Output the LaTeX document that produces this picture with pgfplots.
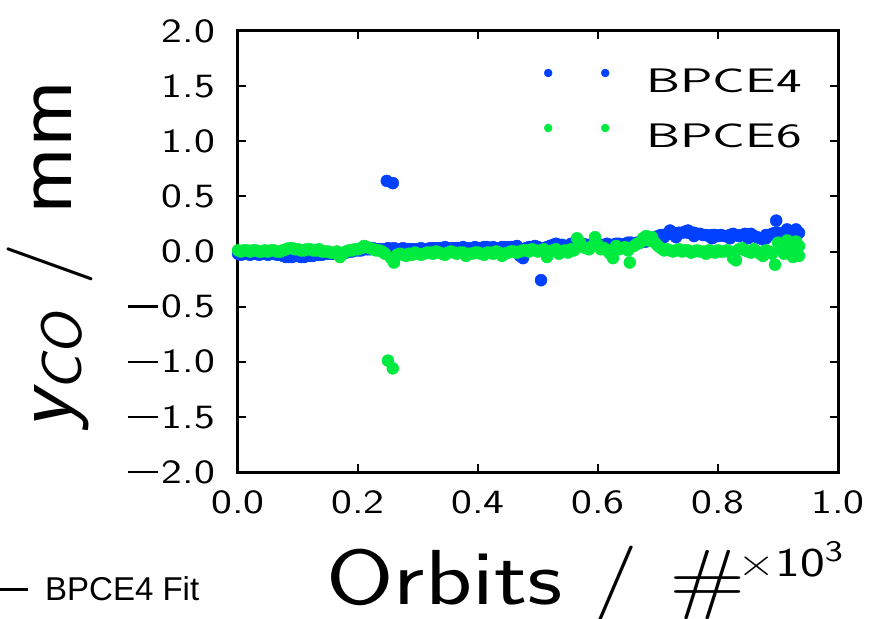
\documentclass[border=0pt]{standalone}
\usepackage{fontspec}
\usepackage{graphicx}
\usepackage{pgfplots}
\pgfplotsset{compat=1.18}
\newfontfamily\arialfont{Liberation Sans}
\definecolor{bpcefour}{RGB}{0,64,255}
\definecolor{bpcesix}{RGB}{0,235,64}
\newcommand\hs[2]{\scalebox{#1}[1]{#2}}
\newcommand\tk[1]{\hs{1.3}{#1}}
\newcommand\mn{\raisebox{10pt}{\rule{23pt}{2.4pt}}\hspace{3pt}}
\begin{document}
\begin{tikzpicture}
\useasboundingbox (-238pt,-146pt) rectangle (634pt,472pt);
\begin{axis}[
  at={(0pt,0pt)}, anchor=south west,
  scale only axis, width=600pt, height=441pt,
  xmin=0, xmax=1, ymin=-2, ymax=2,
  xtick={0,0.2,0.4,0.6,0.8,1},
  xticklabels={\tk{0.0},\tk{0.2},\tk{0.4},\tk{0.6},\tk{0.8},\tk{1.0}},
  ytick={-2,-1.5,-1,-0.5,0,0.5,1,1.5,2},
  yticklabels={\tk{\mn2.0},\tk{\mn1.5},\tk{\mn1.0},\tk{\mn0.5},\tk{0.0},\tk{0.5},\tk{1.0},\tk{1.5},\tk{2.0}},
  xticklabel style={font=\sffamily\fontsize{34}{34}\selectfont, inner sep=0pt, anchor=north, yshift=-18pt},
  yticklabel style={font=\sffamily\fontsize{34}{34}\selectfont, inner sep=0pt, anchor=east, xshift=-23pt},
  tick align=inside,
  major tick length=8pt,
  every tick/.style={black, line width=2pt},
  axis line style={line width=3pt},
  every axis x label/.style={at={(axis description cs:0.4967,-0.2994)}, anchor=base, font=\sffamily\fontsize{78}{78}\selectfont},
  every axis y label/.style={at={(axis description cs:-0.2767,0.492)}, rotate=90, anchor=base, font=\sffamily\fontsize{86}{86}\selectfont},
  xlabel={\hs{1.25}{Orbits / \#}},
  ylabel={\hs{1.05}{{\itshape y}\raisebox{-10pt}{\fontsize{57}{57}\selectfont\itshape CO} / mm}},
  legend style={at={(axis description cs:0.51,0.9184)}, anchor=north west, draw=none, fill=none,
    inner sep=0pt, outer sep=0pt, row sep=21pt,
    nodes={inner sep=0pt, text height=26pt, text depth=8pt, font=\sffamily\fontsize{34}{34}\selectfont}},
  legend cell align=left,
]
\addplot[only marks, mark=*, mark size=6pt, color=bpcefour,
  legend image code/.code={\path[draw=none,fill=none] (0pt,0pt) rectangle (102pt,15pt); \fill (4pt,11pt) circle (4pt); \fill (61pt,11pt) circle (4pt);}]
coordinates {
(0.00,-0.02) (0.01,-0.02) (0.02,-0.03) (0.03,-0.02) (0.04,-0.02) (0.05,-0.03) (0.06,-0.02) (0.07,-0.03)
(0.08,-0.05) (0.09,-0.05) (0.10,-0.04) (0.11,-0.05) (0.12,-0.04) (0.13,-0.03) (0.14,-0.03) (0.15,-0.02)
(0.16,-0.02) (0.17,-0.02) (0.18,-0.01) (0.19,0.00) (0.20,0.01) (0.21,0.02) (0.22,0.02) (0.23,0.02)
(0.24,0.02) (0.248,0.64) (0.25,0.03) (0.258,0.62) (0.26,0.03) (0.27,0.02) (0.28,0.02) (0.29,0.02)
(0.30,0.02) (0.31,0.02) (0.32,0.03) (0.33,0.03) (0.34,0.03) (0.35,0.03) (0.36,0.03) (0.37,0.03)
(0.38,0.03) (0.39,0.03) (0.40,0.03) (0.41,0.04) (0.42,0.03) (0.43,0.03) (0.44,0.04) (0.45,0.04)
(0.46,0.04) (0.47,-0.04) (0.475,-0.06) (0.48,0.03) (0.49,0.04) (0.50,0.04) (0.505,-0.26) (0.51,0.03)
(0.52,0.05) (0.53,0.07) (0.54,0.06) (0.55,0.05) (0.56,0.06) (0.57,0.06) (0.58,0.06) (0.59,0.06)
(0.60,0.06) (0.61,0.06) (0.62,0.06) (0.63,0.07) (0.64,0.06) (0.65,0.08) (0.66,0.07) (0.67,0.08)
(0.68,0.09) (0.69,0.12) (0.70,0.14) (0.71,0.15) (0.72,0.16) (0.73,0.16) (0.74,0.17) (0.75,0.17)
(0.76,0.17) (0.77,0.16) (0.78,0.15) (0.79,0.15) (0.80,0.14) (0.81,0.14) (0.82,0.15) (0.83,0.15)
(0.84,0.15) (0.85,0.15) (0.86,0.14) (0.87,0.12) (0.88,0.15) (0.89,0.16) (0.897,0.28) (0.90,0.17)
(0.91,0.17) (0.92,0.17) (0.93,0.18) (0.935,0.17)
(0.005,-0.03) (0.015,-0.02) (0.025,-0.02) (0.035,-0.03) (0.045,-0.02) (0.055,-0.02) (0.065,-0.03) (0.075,-0.04)
(0.085,-0.05) (0.095,-0.04) (0.105,-0.05) (0.115,-0.04) (0.125,-0.04) (0.135,-0.03) (0.145,-0.02) (0.155,-0.02)
(0.165,-0.01) (0.175,-0.02) (0.185,0.00) (0.195,0.01) (0.205,0.01) (0.215,0.02) (0.225,0.03) (0.235,0.02)
(0.265,0.02) (0.275,0.03) (0.285,0.02) (0.295,0.02) (0.305,0.03) (0.315,0.02) (0.325,0.03) (0.335,0.03)
(0.345,0.04) (0.355,0.03) (0.365,0.03) (0.375,0.04) (0.385,0.03) (0.395,0.04) (0.405,0.03) (0.415,0.04)
(0.425,0.04) (0.435,0.03) (0.445,0.04) (0.455,0.04) (0.465,0.05) (0.485,0.04) (0.495,0.05) (0.515,0.04)
(0.525,0.06) (0.535,0.06) (0.545,0.05) (0.555,0.07) (0.565,0.06) (0.575,0.07) (0.585,0.06) (0.595,0.07)
(0.605,0.06) (0.615,0.07) (0.625,0.06) (0.635,0.07) (0.645,0.07) (0.655,0.08) (0.665,0.08) (0.675,0.09)
(0.685,0.11) (0.695,0.13) (0.705,0.15) (0.715,0.16) (0.725,0.17) (0.735,0.17) (0.745,0.18) (0.755,0.17)
(0.765,0.16) (0.775,0.15) (0.785,0.14) (0.795,0.15) (0.805,0.15) (0.815,0.14) (0.825,0.16) (0.835,0.14)
(0.845,0.16) (0.855,0.16) (0.865,0.13) (0.875,0.11) (0.885,0.15) (0.895,0.17) (0.905,0.16) (0.915,0.18)
(0.925,0.18)
(0.71,0.13) (0.73,0.13) (0.76,0.14) (0.79,0.12) (0.82,0.12) (0.85,0.12) (0.88,0.12) (0.91,0.14) (0.93,0.15)
(0.72,0.19) (0.75,0.19) (0.915,0.20) (0.93,0.20)
};
\addlegendentry{\hs{1.6}{BPCE4}}
\addplot[only marks, mark=*, mark size=6pt, color=bpcesix,
  legend image code/.code={\path[draw=none,fill=none] (0pt,0pt) rectangle (102pt,15pt); \fill (4pt,11pt) circle (4pt); \fill (61pt,11pt) circle (4pt);}]
coordinates {
(0.00,0.01) (0.01,0.01) (0.02,0.00) (0.03,0.01) (0.04,0.00) (0.05,0.00) (0.06,0.01) (0.07,0.00)
(0.08,0.02) (0.09,0.03) (0.10,0.02) (0.11,0.01) (0.12,0.02) (0.13,0.01) (0.14,0.00) (0.15,0.00)
(0.16,-0.01) (0.17,-0.05) (0.18,0.00) (0.19,0.01) (0.20,0.02) (0.21,0.05) (0.22,0.03) (0.23,0.01)
(0.24,0.00) (0.245,-0.02) (0.25,-0.99) (0.258,-1.06) (0.255,-0.06) (0.26,-0.10) (0.27,-0.02) (0.28,-0.04)
(0.29,-0.03) (0.30,-0.02) (0.31,-0.02) (0.32,-0.01) (0.33,0.00) (0.34,-0.02) (0.35,-0.01) (0.36,-0.01)
(0.37,-0.01) (0.38,-0.04) (0.39,-0.02) (0.40,-0.01) (0.41,-0.03) (0.42,-0.01) (0.43,0.00) (0.44,-0.04)
(0.45,-0.01) (0.46,0.00) (0.47,0.00) (0.48,0.01) (0.49,0.02) (0.50,0.00) (0.51,0.02) (0.515,-0.05)
(0.52,0.00) (0.53,0.02) (0.54,0.00) (0.55,-0.01) (0.56,0.01) (0.565,0.12) (0.57,0.08) (0.58,0.03)
(0.59,0.05) (0.595,0.13) (0.60,0.06) (0.61,0.03) (0.62,-0.02) (0.625,-0.06) (0.63,0.05) (0.64,0.03)
(0.65,0.01) (0.653,-0.10) (0.66,0.05) (0.67,0.08) (0.675,0.12) (0.68,0.14) (0.685,0.10) (0.69,0.13)
(0.695,0.08) (0.70,0.05) (0.71,0.01) (0.72,0.01) (0.73,0.01) (0.74,0.00) (0.75,0.01) (0.76,0.00)
(0.77,0.00) (0.78,-0.02) (0.79,0.00) (0.80,0.01) (0.81,0.00) (0.82,0.00) (0.825,-0.06) (0.83,-0.08)
(0.835,0.02) (0.84,0.03) (0.85,0.00) (0.86,0.02) (0.87,-0.02) (0.875,-0.04) (0.88,0.01) (0.89,-0.02)
(0.895,-0.12) (0.90,0.08) (0.905,0.02) (0.91,-0.02) (0.915,0.10) (0.92,0.05) (0.925,-0.05) (0.93,0.09)
(0.93,0.03) (0.933,-0.03)
(0.005,0.00) (0.015,0.01) (0.025,0.01) (0.035,0.00) (0.045,0.01) (0.055,0.01) (0.065,0.00) (0.075,0.01)
(0.085,0.03) (0.095,0.02) (0.105,0.01) (0.115,0.02) (0.125,0.01) (0.135,0.02) (0.145,0.00) (0.155,-0.01)
(0.165,0.00) (0.175,-0.02) (0.185,0.01) (0.195,0.02) (0.205,0.03) (0.215,0.04) (0.225,0.02) (0.235,0.01)
(0.265,-0.03) (0.275,-0.03) (0.285,-0.02) (0.295,-0.01) (0.305,-0.03) (0.315,-0.01) (0.325,-0.02) (0.335,-0.01)
(0.345,-0.03) (0.355,0.00) (0.365,-0.02) (0.375,-0.01) (0.385,-0.02) (0.395,-0.01) (0.405,-0.02) (0.415,-0.01)
(0.425,-0.02) (0.435,-0.01) (0.445,-0.02) (0.455,0.00) (0.465,-0.01) (0.475,0.01) (0.485,0.00) (0.495,0.01)
(0.505,0.01) (0.525,0.01) (0.535,-0.02) (0.545,0.01) (0.555,0.02) (0.575,0.04) (0.585,0.02) (0.605,0.02)
(0.615,0.01) (0.635,0.02) (0.645,0.04) (0.665,0.07) (0.705,0.03) (0.715,0.02) (0.725,0.00) (0.735,0.02)
(0.745,0.01) (0.755,-0.01) (0.765,0.01) (0.775,0.00) (0.785,0.01) (0.795,-0.01) (0.805,0.00) (0.815,0.01)
(0.845,0.01) (0.855,-0.01) (0.865,0.00) (0.885,0.00) (0.91,0.06) (0.92,-0.02) (0.925,0.08) (0.935,0.05)
(0.935,-0.04)
};
\addlegendentry{\hs{1.6}{BPCE6}}
\end{axis}
\node[anchor=base west, inner sep=0pt, font=\sffamily\fontsize{41}{41}\selectfont] at (499pt,-104pt)
  {\hs{1.28}{×10\raisebox{15pt}{\fontsize{30}{30}\selectfont 3}}};
\node[anchor=base west, inner sep=0pt] at (-238pt,-128pt)
  {\arialfont\fontsize{33}{33}\selectfont\rule[9pt]{28pt}{3pt}\hspace{17pt}BPCE4 Fit};
\end{tikzpicture}
\end{document}
